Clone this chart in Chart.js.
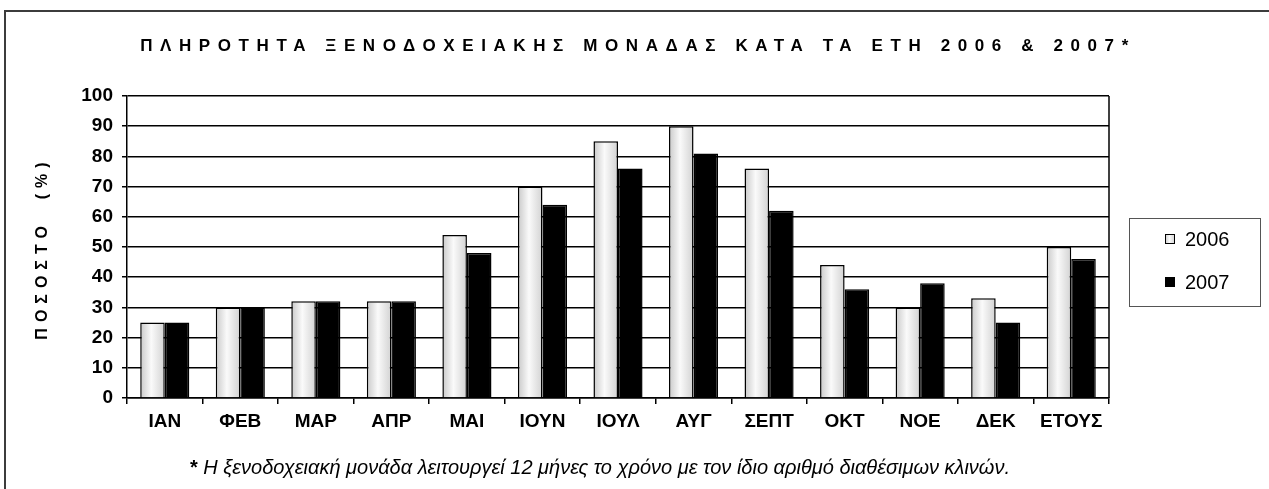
<!DOCTYPE html>
<html>
<head>
<meta charset="utf-8">
<script src="https://cdn.jsdelivr.net/npm/chart.js@4"></script>
<style>
  html, body { margin: 0; padding: 0; background: #fff; }
  #wrap { width: 1269px; height: 489px; }
</style>
</head>
<body>
<div id="wrap"><canvas id="chart" width="1269" height="489"></canvas></div>
<script>
/* Hotel occupancy 2006 vs 2007 — grouped bars */

const MONTHS = ['ΙΑΝ', 'ΦΕΒ', 'ΜΑΡ', 'ΑΠΡ', 'ΜΑΙ', 'ΙΟΥΝ', 'ΙΟΥΛ', 'ΑΥΓ', 'ΣΕΠΤ', 'ΟΚΤ', 'ΝΟΕ', 'ΔΕΚ', 'ΕΤΟΥΣ'];
const YEARS = ['2006', '2007'];
const OCC_2006 = [25, 30, 32, 32, 54, 70, 85, 90, 76, 44, 30, 33, 50];
const OCC_2007 = [25, 30, 32, 32, 48, 64, 76, 81, 62, 36, 38, 25, 46];
const Y_MIN = 0, Y_MAX = 100, Y_STEP = 10;

const TITLE = 'ΠΛΗΡΟΤΗΤΑ ΞΕΝΟΔΟΧΕΙΑΚΗΣ ΜΟΝΑΔΑΣ ΚΑΤΑ ΤΑ ΕΤΗ 2006 & 2007*';
const Y_TITLE = 'ΠΟΣΟΣΤΟ  (%)';
const NOTE = 'Η ξενοδοχειακή μονάδα λειτουργεί 12 μήνες το χρόνο με τον ίδιο αριθμό διαθέσιμων κλινών.';

const FONT = "'Liberation Sans', Arial, sans-serif";
const CAT_PCT = 0.65;

// ─── Shading for the light bars ──────────────────────────────────────────────

function lightShade(g, x0, x1) {
  const grad = g.createLinearGradient(x0, 0, x1, 0);
  grad.addColorStop(0, '#c9c9c9');
  grad.addColorStop(0.45, '#fafafa');
  grad.addColorStop(1, '#d2d2d2');
  return grad;
}

function barShade(c) {
  const xs = c.chart.scales.x;
  if (!xs || c.dataIndex === undefined) return '#e0e0e0';
  const mid = xs.getPixelForValue(c.dataIndex);
  const half = (xs.width / MONTHS.length) * CAT_PCT / 2;
  if (!Number.isFinite(mid) || !Number.isFinite(half) || half <= 0) return '#e0e0e0';
  return lightShade(c.chart.ctx, mid - half, mid);
}

// ─── Decorations: frame, titles, legend, footnote ────────────────────────────

const decor = {
  id: 'decor',
  beforeDraw(chart) {
    const g = chart.ctx;
    g.save();
    g.fillStyle = '#fff';
    g.fillRect(0, 0, chart.width, chart.height);
    g.strokeStyle = '#3c3c3c';
    g.lineWidth = 2;
    g.strokeRect(5, 11, chart.width + 20, chart.height + 20);
    g.restore();
  },
  afterDraw(chart) {
    const g = chart.ctx;
    const a = chart.chartArea;
    g.save();

    // right edge of the plot
    g.strokeStyle = '#000';
    g.lineWidth = 1.5;
    g.beginPath();
    g.moveTo(a.right, a.top);
    g.lineTo(a.right, a.bottom);
    g.stroke();

    // title
    g.fillStyle = '#000';
    g.font = `bold 17px ${FONT}`;
    g.letterSpacing = '7.6px';
    g.textAlign = 'center';
    g.textBaseline = 'middle';
    g.fillText(TITLE, 638, 46);

    // y axis title
    g.save();
    g.translate(43, (a.top + a.bottom) / 2 + 4);
    g.rotate(-Math.PI / 2);
    g.font = `bold 16px ${FONT}`;
    g.letterSpacing = '6px';
    g.fillText(Y_TITLE, 3, 0);
    g.restore();
    g.letterSpacing = '0px';

    // legend
    const lx = 1129, ly = 218, lw = 131, lh = 88;
    g.fillStyle = '#fff';
    g.fillRect(lx, ly, lw, lh);
    g.strokeStyle = '#555';
    g.lineWidth = 1;
    g.strokeRect(lx + 0.5, ly + 0.5, lw, lh);
    g.font = `20px ${FONT}`;
    g.textAlign = 'left';
    chart.data.datasets.forEach((ds, i) => {
      const y = 239 + i * 43;
      const sx = 1165;
      g.fillStyle = i === 0 ? lightShade(g, sx, sx + 10) : '#000';
      g.fillRect(sx, y - 5, 10, 10);
      g.strokeStyle = '#000';
      g.strokeRect(sx + 0.5, y - 4.5, 9, 9);
      g.fillStyle = '#000';
      g.fillText(ds.label, 1185, y + 1);
    });

    // footnote
    g.textBaseline = 'middle';
    g.font = `bold 20px ${FONT}`;
    const star = '* ';
    const sw = g.measureText(star).width;
    g.font = `italic 20px ${FONT}`;
    const nw = g.measureText(NOTE).width;
    const x0 = 600 - (sw + nw) / 2;
    g.font = `bold 20px ${FONT}`;
    g.fillText(star, x0, 468);
    g.font = `italic 20px ${FONT}`;
    g.fillText(NOTE, x0 + sw, 468);

    g.restore();
  },
};

// ─── Chart ───────────────────────────────────────────────────────────────────

new Chart(document.getElementById('chart'), {
  type: 'bar',
  data: {
    labels: MONTHS,
    datasets: [
      { label: YEARS[0], data: OCC_2006, backgroundColor: barShade, borderColor: '#000', borderWidth: 1.5 },
      { label: YEARS[1], data: OCC_2007, backgroundColor: '#000', borderColor: '#000', borderWidth: 1.5 },
    ],
  },
  options: {
    responsive: false,
    animation: false,
    datasets: { bar: { categoryPercentage: CAT_PCT, barPercentage: 1 } },
    layout: { padding: { left: 0, top: 96, right: 160, bottom: 0 } },
    plugins: { legend: { display: false }, title: { display: false }, tooltip: { enabled: false } },
    scales: {
      x: {
        afterFit: s => { s.height = 91; },
        grid: { offset: true, drawOnChartArea: false, color: '#000', lineWidth: 1.5, tickLength: 6 },
        border: { color: '#000', width: 1.5 },
        ticks: { color: '#000', padding: 6, maxRotation: 0, font: { family: FONT, size: 19, weight: 'bold' } },
      },
      y: {
        min: Y_MIN,
        max: Y_MAX,
        afterFit: s => { s.width = 127; },
        grid: { color: '#000', lineWidth: 1.5, tickLength: 5 },
        border: { color: '#000', width: 1.5 },
        ticks: { stepSize: Y_STEP, color: '#000', padding: 9, font: { family: FONT, size: 19, weight: 'bold' } },
      },
    },
  },
  plugins: [decor],
});
</script>
</body>
</html>
